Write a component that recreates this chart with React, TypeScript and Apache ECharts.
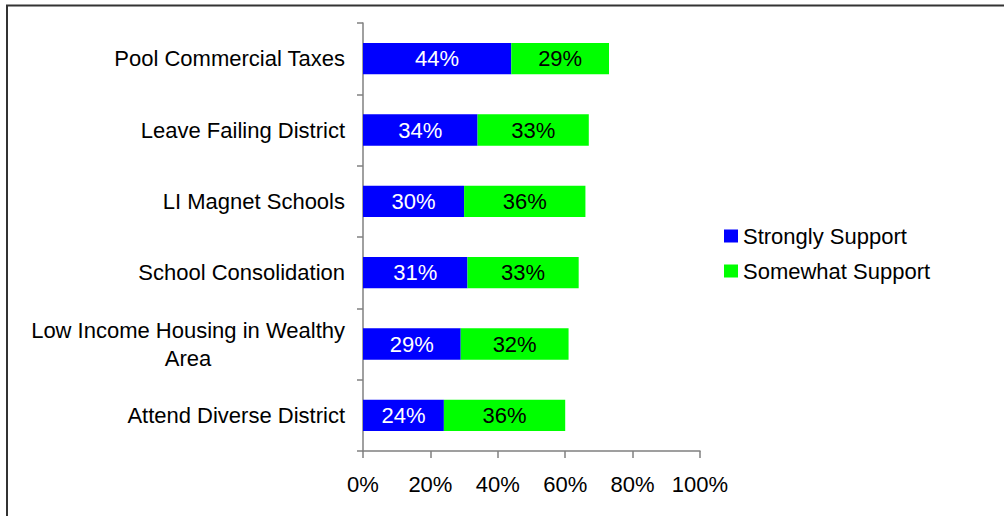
import React, { useEffect, useRef } from "react";
import * as echarts from "echarts";

const categories = [
  "Pool Commercial Taxes",
  "Leave Failing District",
  "LI Magnet Schools",
  "School Consolidation",
  "Low Income Housing in Wealthy Area",
  "Attend Diverse District",
];
const stronglySupport = [44, 34, 30, 31, 29, 24];
const somewhatSupport = [29, 33, 36, 33, 32, 36];
const xTicks = [0, 20, 40, 60, 80, 100];

const FONT = "'Liberation Sans', Arial, sans-serif";
const FS = 22;

export default function App() {
  const ref = useRef<HTMLDivElement>(null);
  useEffect(() => {
    document.body.style.margin = "0";
    const chart = echarts.init(ref.current!, null, { renderer: "svg" });
    chart.setOption({
      animation: false,
      backgroundColor: "#ffffff",
      textStyle: { fontFamily: FONT },
      grid: { left: 363, right: 304, top: 23, bottom: 65, containLabel: false },
      legend: {
        orient: "vertical",
        left: 719,
        top: 220,
        icon: "rect",
        itemWidth: 14,
        itemHeight: 13,
        itemGap: 13,
        itemStyle: { borderWidth: 0 },
        textStyle: { fontSize: FS, color: "#000", fontFamily: FONT },
        data: ["Strongly Support", "Somewhat Support"],
      },
      xAxis: {
        type: "value",
        min: 0,
        max: 100,
        interval: 20,
        splitLine: { show: false },
        axisLine: { show: true, lineStyle: { color: "#808080", width: 1.5 } },
        axisTick: { show: true, length: 7, lineStyle: { color: "#808080", width: 1.5 } },
        axisLabel: {
          fontSize: FS,
          color: "#000",
          fontFamily: FONT,
          margin: 22,
          formatter: (v: number) => (xTicks.includes(v) ? v + "%" : ""),
        },
      },
      yAxis: {
        type: "category",
        inverse: true,
        data: categories,
        axisLine: { show: true, lineStyle: { color: "#808080", width: 1.5 } },
        axisTick: { show: true, length: 6, lineStyle: { color: "#808080", width: 1.5 } },
        axisLabel: {
          fontSize: FS,
          color: "#000",
          fontFamily: FONT,
          margin: 18,
          lineHeight: 28,
          formatter: (v: string) =>
            v === "Low Income Housing in Wealthy Area"
              ? "{c|Low Income Housing in Wealthy}\n{c|Area}"
              : v,
          rich: {
            c: { align: "center", fontSize: FS, color: "#000", fontFamily: FONT, lineHeight: 28 },
          },
        },
      },
      series: [
        {
          name: "Strongly Support",
          type: "bar",
          stack: "total",
          data: stronglySupport,
          barCategoryGap: "56%",
          itemStyle: { color: "#0000ff" },
          label: {
            show: true,
            position: "inside",
            formatter: "{c}%",
            color: "#ffffff",
            fontSize: FS,
            fontFamily: FONT,
          },
        },
        {
          name: "Somewhat Support",
          type: "bar",
          stack: "total",
          data: somewhatSupport,
          barCategoryGap: "56%",
          itemStyle: { color: "#00ff00" },
          label: {
            show: true,
            position: "inside",
            formatter: "{c}%",
            color: "#000000",
            fontSize: FS,
            fontFamily: FONT,
          },
        },
      ],
      graphic: [
        {
          type: "line",
          shape: { x1: 6, y1: 5.5, x2: 1004, y2: 5.5 },
          style: { stroke: "#333", lineWidth: 2 },
        },
        {
          type: "line",
          shape: { x1: 7, y1: 5, x2: 7, y2: 516 },
          style: { stroke: "#333", lineWidth: 2 },
        },
      ],
    });
    return () => chart.dispose();
  }, []);
  return <div ref={ref} style={{ width: 1004, height: 516 }} />;
}
